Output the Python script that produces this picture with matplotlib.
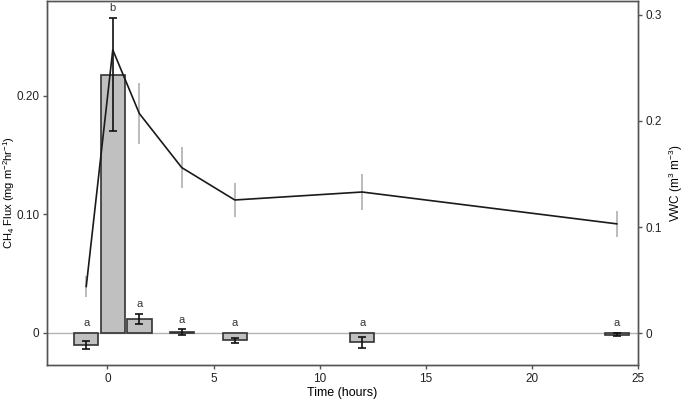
import numpy as np
import matplotlib.pyplot as plt

plt.rcParams['font.family'] = ['Liberation Sans', 'DejaVu Sans']
plt.rcParams['mathtext.default'] = 'regular'

# CH4 flux bars (left axis)
bar_time = [-1, 0.25, 1.5, 3.5, 6, 12, 24]
flux_mean = [-0.0101, 0.218, 0.0118, 0.0005, -0.0063, -0.0080, -0.0015]
flux_se = [0.0034, 0.048, 0.0042, 0.0025, 0.0024, 0.0050, 0.0012]
letters = ['a', 'b', 'a', 'a', 'a', 'a', 'a']

# volumetric water content line (right axis)
vwc_time = [-1, 0.25, 1.5, 3.5, 6, 12, 24]
vwc_mean = [0.044, 0.267, 0.207, 0.156, 0.1255, 0.133, 0.103]
vwc_se = [0.010, 0.0, 0.029, 0.019, 0.016, 0.017, 0.012]

edge = '#555555'

fig = plt.figure(figsize=(6.85, 4.01), dpi=100)
ax = fig.add_axes([0.0686, 0.0898, 0.8628, 0.9077])
ax2 = ax.twinx()

ax.axhline(0, color='#b5b5b5', linewidth=1.0, zorder=1)
ax.bar(bar_time, flux_mean, width=1.15, color='#c0c0c0',
       edgecolor='#333333', linewidth=1.2, zorder=2)
ax.errorbar(bar_time, flux_mean, yerr=flux_se, fmt='none', ecolor='#111111',
            elinewidth=1.2, capsize=3, capthick=1.2, zorder=3)
for t, m, s, lab in zip(bar_time, flux_mean, flux_se, letters):
    top = max(0, m + s)
    ax.annotate(lab, (t, top), xytext=(0, 7), textcoords='offset points',
                ha='center', va='center', fontsize=8, color='#333333')

ax2.errorbar(vwc_time, vwc_mean, yerr=vwc_se, fmt='none', ecolor='#b0b0b0',
             elinewidth=1.2, capsize=0, zorder=2)
ax2.plot(vwc_time, vwc_mean, color='#1a1a1a', linewidth=1.2, zorder=3)

ax.set_xlim(-2.85, 25)
ax.set_ylim(-0.027, 0.280)
ax2.set_ylim(-0.030, 0.313)

ax.set_xticks([0, 5, 10, 15, 20, 25])
ax.set_yticks([0, 0.10, 0.20])
ax.set_yticklabels(['0', '0.10', '0.20'])
ax2.set_yticks([0, 0.1, 0.2, 0.3])
ax2.set_yticklabels(['0', '0.1', '0.2', '0.3'])

for a in (ax, ax2):
    for sp in a.spines.values():
        sp.set_color(edge)
        sp.set_linewidth(1.0)
    a.tick_params(direction='out', length=3, width=1.0, color=edge,
                  labelsize=8.5, labelcolor='#222222', pad=2.5)

ax.set_xlabel('Time (hours)', fontsize=9, labelpad=2)
fig.text(9 / 685, 1 - 192 / 401, 'CH$_4$ Flux (mg m$^{-2}$hr$^{-1}$)',
         fontsize=8, rotation=90, ha='center', va='center')
ax2.set_ylabel('VWC (m$^{3}$ m$^{-3}$)', fontsize=8.5, rotation=90, labelpad=3)

fig.savefig('out.png', dpi=100)
